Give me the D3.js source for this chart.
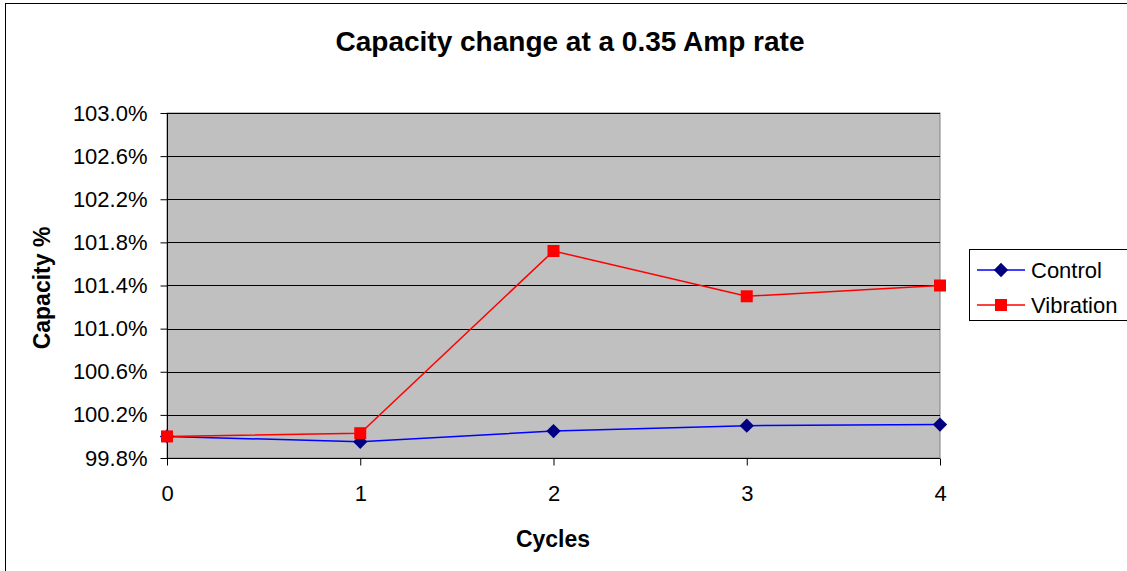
<!DOCTYPE html>
<html>
<head>
<meta charset="utf-8">
<script src="https://cdn.jsdelivr.net/npm/d3@7"></script>
<style>
  body { margin: 0; background: #fff; }
  text { font-family: Arial, "Liberation Sans", sans-serif; }
</style>
</head>
<body>
<svg id="chart" width="1127" height="571"></svg>
<script>
// values
var cycles = [0, 1, 2, 3, 4]
var control = [100.0, 99.95, 100.05, 100.10, 100.11]
var vibration = [100.0, 100.03, 101.72, 101.30, 101.40]
var yTicks = [99.8, 100.2, 100.6, 101.0, 101.4, 101.8, 102.2, 102.6, 103.0]
var seriesNames = ["Control", "Vibration"]

var svg = d3.select("#chart")
var plotLeft = 167, plotRight = 940, plotTop = 113, plotBottom = 458

// outer chart frame
svg.append("rect").attr("x", 5.5).attr("y", 3.5).attr("width", 1130).attr("height", 580)
  .attr("fill", "#fff").attr("stroke", "#000").attr("stroke-width", 1)

var x = d3.scaleLinear().domain([0, 4]).range([plotLeft, plotRight])
var y = d3.scaleLinear().domain([99.8, 103.0]).range([plotBottom, plotTop])

// plot area
svg.append("rect").attr("x", plotLeft).attr("y", plotTop).attr("width", plotRight - plotLeft).attr("height", plotBottom - plotTop)
  .attr("fill", "#c0c0c0").attr("stroke", "#808080")

// gridlines
svg.append("g").selectAll("line").data(yTicks).enter().append("line")
  .attr("x1", plotLeft).attr("x2", plotRight)
  .attr("y1", function(d) { return Math.round(y(d)) + 0.5 })
  .attr("y2", function(d) { return Math.round(y(d)) + 0.5 })
  .attr("stroke", "#000").attr("stroke-width", 1)

var yAxis = d3.axisLeft(y).tickValues(yTicks).tickSize(7).tickPadding(13)
  .tickFormat(function(d) { return d.toFixed(1) + "%" })
var gy = svg.append("g").attr("transform", "translate(" + (plotLeft + 0.5) + ",0)").call(yAxis)
gy.select(".domain").attr("stroke", "#000").attr("d", "M0," + plotTop + "V" + plotBottom)
gy.selectAll("text").attr("font-size", 22).attr("font-family", "Arial, 'Liberation Sans', sans-serif").attr("fill", "#000")

var xAxis = d3.axisBottom(x).tickValues(cycles).tickSize(7).tickPadding(20)
  .tickFormat(d3.format("d"))
var gx = svg.append("g").attr("transform", "translate(0," + (plotBottom + 0.5) + ")").call(xAxis)
gx.select(".domain").attr("stroke", "#000").attr("d", "M" + plotLeft + ",0H" + plotRight)
gx.selectAll("text").attr("font-size", 22).attr("font-family", "Arial, 'Liberation Sans', sans-serif").attr("fill", "#000")

// titles
svg.append("text").attr("x", 570).attr("y", 51).attr("text-anchor", "middle")
  .attr("font-size", 28).attr("font-weight", "bold").text("Capacity change at a 0.35 Amp rate")
svg.append("text").attr("x", 553).attr("y", 547).attr("text-anchor", "middle")
  .attr("font-size", 23).attr("font-weight", "bold").text("Cycles")
svg.append("text").attr("transform", "translate(50,288) rotate(-90)").attr("text-anchor", "middle")
  .attr("font-size", 23).attr("font-weight", "bold").text("Capacity %")

var line = d3.line().x(function(d, i) { return x(cycles[i]) }).y(function(d) { return y(d) })

svg.append("path").datum(control).attr("d", line).attr("fill", "none").attr("stroke", "#0000ff").attr("stroke-width", 1.5)
svg.append("path").datum(vibration).attr("d", line).attr("fill", "none").attr("stroke", "#ff0000").attr("stroke-width", 1.5)

var diamond = d3.symbol().type(d3.symbolDiamond2).size(130)
svg.append("g").selectAll("path").data(control).enter().append("path")
  .attr("d", diamond)
  .attr("transform", function(d, i) { return "translate(" + x(cycles[i]) + "," + y(d) + ")" })
  .attr("fill", "#000080")
svg.append("g").selectAll("rect").data(vibration).enter().append("rect")
  .attr("x", function(d, i) { return x(cycles[i]) - 6 })
  .attr("y", function(d) { return y(d) - 6 })
  .attr("width", 12).attr("height", 12).attr("fill", "#ff0000")

// legend
var lg = svg.append("g")
lg.append("rect").attr("x", 969.5).attr("y", 249.5).attr("width", 160).attr("height", 71)
  .attr("fill", "#fff").attr("stroke", "#000")
var colors = ["#0000ff", "#ff0000"]
seriesNames.forEach(function(name, i) {
  var ly = 270 + i * 35
  lg.append("line").attr("x1", 977).attr("x2", 1025).attr("y1", ly).attr("y2", ly)
    .attr("stroke", colors[i]).attr("stroke-width", 1.5)
  if (i == 0)
    lg.append("path").attr("d", diamond).attr("transform", "translate(1001," + ly + ")").attr("fill", "#000080")
  else
    lg.append("rect").attr("x", 995).attr("y", ly - 6).attr("width", 12).attr("height", 12).attr("fill", "#ff0000")
  lg.append("text").attr("x", 1031).attr("y", ly + 8).attr("font-size", 22).text(name)
})
</script>
</body>
</html>
